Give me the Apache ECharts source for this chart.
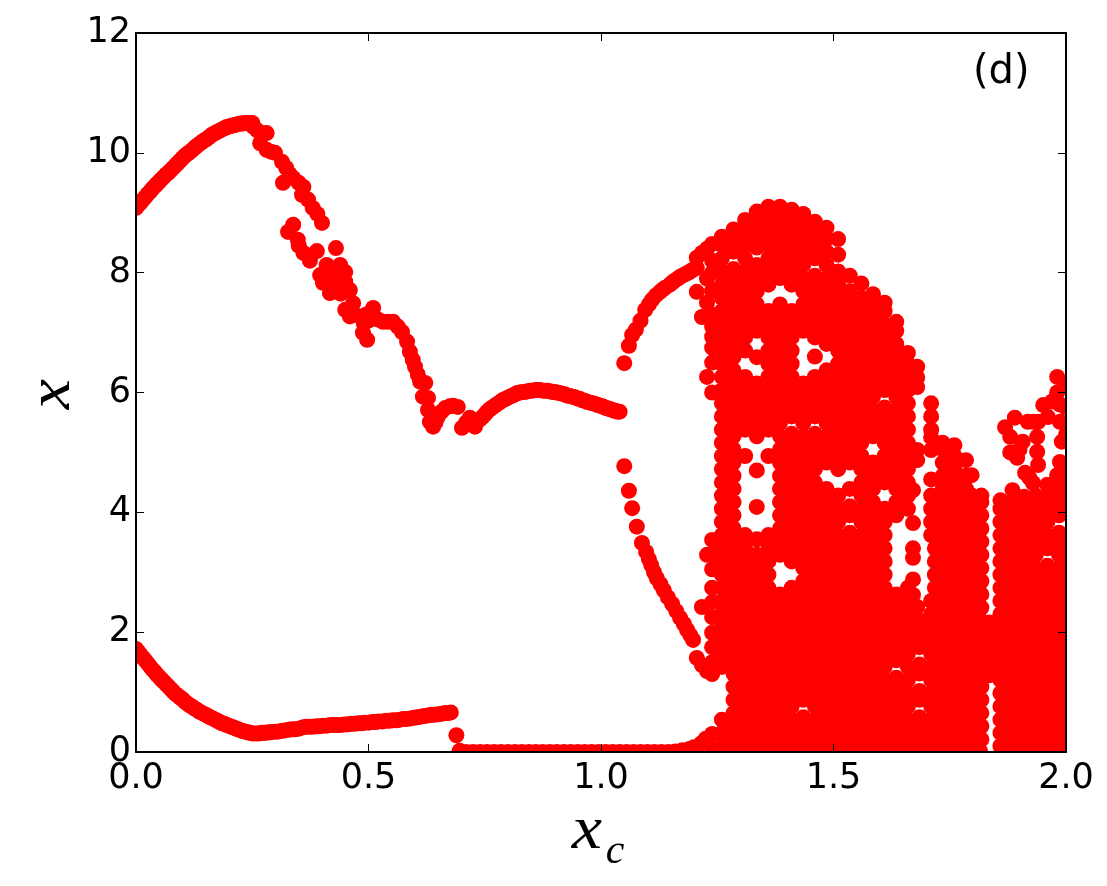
<!DOCTYPE html>
<html>
<head>
<meta charset="utf-8">
<style>html,body{margin:0;padding:0;background:#fff}#chart{width:1107px;height:886px}</style>
<script src="https://cdn.jsdelivr.net/npm/echarts@6/dist/echarts.min.js"></script>
</head>
<body>
<div id="chart"></div>
<script>
// Tick labels
const xTicks = [0, 0.5, 1, 1.5, 2];
const yTicks = [0, 2, 4, 6, 8, 10, 12];

// Ordered branches, as [xc, x]
const upperRise = [[0,9.08],[0.005,9.13],[0.01,9.17],[0.015,9.22],[0.02,9.26],[0.025,9.31],[0.03,9.35],[0.035,9.4],[0.04,9.44],[0.045,9.48],[0.05,9.52],[0.055,9.56],[0.06,9.6],[0.065,9.64],[0.07,9.67],[0.075,9.71],[0.08,9.75],[0.085,9.79],[0.09,9.83],[0.095,9.87],[0.1,9.91],[0.105,9.95],[0.11,9.98],[0.115,10.01],[0.12,10.04],[0.125,10.08],[0.13,10.11],[0.135,10.14],[0.14,10.17],[0.145,10.2],[0.15,10.22],[0.155,10.25],[0.16,10.28],[0.165,10.31],[0.17,10.33],[0.175,10.35],[0.18,10.37],[0.185,10.39],[0.19,10.41],[0.195,10.43],[0.2,10.44],[0.205,10.45],[0.21,10.46],[0.215,10.47],[0.22,10.48],[0.225,10.49],[0.23,10.49],[0.235,10.5],[0.24,10.5],[0.245,10.5],[0.25,10.5]];
const upperScatter = [[0.252,10.44],[0.26,10.38],[0.27,10.33],[0.281,10.33],[0.267,10.16],[0.281,10.05],[0.29,10.02],[0.299,10],[0.314,9.85],[0.323,9.75],[0.316,9.5],[0.33,9.65],[0.338,9.58],[0.35,9.5],[0.36,9.43],[0.357,9.3],[0.37,9.22],[0.38,9.08],[0.39,8.98],[0.4,8.83],[0.338,8.8],[0.327,8.68],[0.348,8.55],[0.36,8.33],[0.35,8.45],[0.389,8.36],[0.43,8.41],[0.374,8.2],[0.41,8.13],[0.439,8.13],[0.45,8.01],[0.396,7.96],[0.402,7.83],[0.417,7.66],[0.432,7.83],[0.42,8],[0.41,7.9],[0.425,7.75],[0.44,7.65],[0.46,7.71],[0.45,7.85],[0.467,7.49],[0.45,7.38],[0.46,7.27],[0.47,7.3],[0.482,7.27],[0.495,7.3],[0.51,7.41],[0.5,7.2],[0.497,6.88],[0.488,7],[0.49,7.15],[0.52,7.22],[0.531,7.18],[0.542,7.18],[0.553,7.18],[0.563,7.1],[0.572,7.01],[0.583,6.85],[0.589,6.68],[0.595,6.55],[0.6,6.43],[0.606,6.3],[0.611,6.18],[0.622,6.16],[0.617,5.93],[0.628,5.91],[0.628,5.71],[0.632,5.51],[0.639,5.43],[0.644,5.5],[0.649,5.59],[0.657,5.68],[0.665,5.74],[0.675,5.77],[0.682,5.78],[0.692,5.76]];
const humpBranch = [[0.701,5.41],[0.71,5.5],[0.718,5.58],[0.729,5.43],[0.74,5.55],[0.745,5.59],[0.75,5.63],[0.755,5.68],[0.761,5.72],[0.766,5.75],[0.772,5.78],[0.777,5.81],[0.783,5.84],[0.788,5.87],[0.794,5.89],[0.799,5.91],[0.804,5.93],[0.81,5.95],[0.815,5.97],[0.82,5.99],[0.826,6],[0.831,6.01],[0.837,6.01],[0.842,6.02],[0.848,6.03],[0.853,6.03],[0.859,6.04],[0.864,6.04],[0.869,6.04],[0.875,6.03],[0.88,6.03],[0.885,6.03],[0.89,6.02],[0.895,6.01],[0.9,6.01],[0.905,6],[0.911,5.99],[0.916,5.98],[0.922,5.97],[0.927,5.95],[0.933,5.94],[0.938,5.93],[0.944,5.92],[0.95,5.9],[0.955,5.89],[0.96,5.87],[0.966,5.86],[0.971,5.84],[0.977,5.83],[0.982,5.82],[0.988,5.81],[0.993,5.79],[0.998,5.78],[1.003,5.77],[1.008,5.75],[1.012,5.74],[1.016,5.73],[1.02,5.72],[1.024,5.71],[1.028,5.7],[1.032,5.69],[1.036,5.68],[1.04,5.68]];
const forkUpper = [[1.05,6.49],[1.06,6.78],[1.067,6.96],[1.075,7.05],[1.085,7.2],[1.095,7.38],[1.103,7.47],[1.11,7.55],[1.118,7.62],[1.127,7.68],[1.133,7.72],[1.138,7.75],[1.148,7.8],[1.154,7.84],[1.159,7.87],[1.165,7.9],[1.17,7.93],[1.175,7.95],[1.18,7.97],[1.185,7.99],[1.19,8.01],[1.194,8.03],[1.198,8.05],[1.206,8.08]];
const forkLower = [[1.05,4.77],[1.06,4.36],[1.067,4.07],[1.077,3.76],[1.088,3.49],[1.097,3.34],[1.103,3.22],[1.108,3.12],[1.114,3],[1.12,2.9],[1.128,2.8],[1.135,2.7],[1.144,2.58],[1.153,2.47],[1.162,2.35],[1.17,2.24],[1.178,2.14],[1.185,2.04],[1.192,1.95],[1.198,1.87]];
const lowerFall = [[0,1.72],[0.005,1.67],[0.01,1.62],[0.015,1.57],[0.02,1.53],[0.025,1.48],[0.03,1.43],[0.035,1.38],[0.04,1.34],[0.045,1.29],[0.05,1.25],[0.055,1.21],[0.06,1.17],[0.065,1.13],[0.07,1.09],[0.075,1.05],[0.08,1.01],[0.085,0.97],[0.09,0.94],[0.095,0.91],[0.1,0.88],[0.105,0.84],[0.11,0.81],[0.115,0.78],[0.12,0.76],[0.125,0.73],[0.13,0.71],[0.135,0.68],[0.14,0.66],[0.145,0.64],[0.15,0.62],[0.155,0.6],[0.16,0.58],[0.165,0.56],[0.17,0.54],[0.175,0.52],[0.18,0.5],[0.185,0.48],[0.19,0.47],[0.195,0.45],[0.2,0.44],[0.205,0.42],[0.21,0.41],[0.215,0.39],[0.22,0.38],[0.225,0.36],[0.23,0.35],[0.235,0.34],[0.24,0.33],[0.245,0.32],[0.25,0.31]];
const lowerRise = [[0.255,0.31],[0.26,0.31],[0.265,0.31],[0.27,0.32],[0.275,0.32],[0.28,0.32],[0.285,0.33],[0.29,0.33],[0.298,0.34],[0.305,0.34],[0.312,0.35],[0.32,0.36],[0.328,0.37],[0.335,0.38],[0.342,0.38],[0.35,0.39],[0.358,0.41],[0.365,0.42],[0.372,0.42],[0.38,0.42],[0.388,0.43],[0.395,0.43],[0.402,0.44],[0.41,0.44],[0.418,0.45],[0.425,0.45],[0.432,0.45],[0.44,0.45],[0.448,0.46],[0.455,0.46],[0.462,0.47],[0.47,0.47],[0.478,0.48],[0.485,0.48],[0.492,0.49],[0.5,0.49],[0.508,0.5],[0.515,0.5],[0.522,0.51],[0.53,0.51],[0.538,0.52],[0.545,0.52],[0.552,0.53],[0.56,0.53],[0.568,0.54],[0.575,0.55],[0.582,0.55],[0.59,0.56],[0.598,0.57],[0.605,0.58],[0.612,0.59],[0.62,0.6],[0.628,0.61],[0.635,0.62],[0.642,0.62],[0.65,0.63],[0.658,0.64],[0.665,0.65],[0.671,0.65],[0.677,0.66],[0.689,0.28]];
const floorBranch = [[0.696,0.02],[0.71,0],[0.725,0],[0.74,0],[0.755,0],[0.77,0],[0.785,0],[0.8,0],[0.815,0],[0.83,0],[0.845,0],[0.86,0],[0.875,0],[0.89,0],[0.905,0],[0.92,0],[0.935,0],[0.95,0],[0.965,0],[0.98,0],[0.995,0],[1.01,0],[1.025,0],[1.04,0],[1.055,0],[1.07,0],[1.085,0],[1.1,0],[1.115,0],[1.13,0],[1.145,0],[1.16,0.01],[1.175,0.03],[1.19,0.05],[1.2,0.08],[1.215,0.14],[1.225,0.22]];
const bandFloor = [[1.24,0.05],[1.25,0.03],[1.272,0.02],[1.297,0.02],[1.322,0.02],[1.347,0.02],[1.372,0.02],[1.397,0.02],[1.422,0.02],[1.447,0.02],[1.472,0.02],[1.497,0.02],[1.522,0.02],[1.547,0.02],[1.572,0.02],[1.597,0.02],[1.622,0.02],[1.647,0.02],[1.672,0.02],[1.697,0.02],[1.722,0.02],[1.747,0.02],[1.772,0.02],[1.797,0.02],[1.815,0.02],[1.862,0.02],[1.872,0.02],[1.897,0.02],[1.922,0.02],[1.947,0.02],[1.972,0.02],[1.997,0.02]];
const rightCurls = [[1.869,5.42],[1.89,5.58],[1.88,5.26],[1.88,5],[1.895,4.91],[1.912,4.66],[1.921,4.58],[1.929,4.49],[1.918,5.51],[1.907,5.18],[1.9,5.05],[1.94,5.51],[1.938,5.26],[1.938,5.01],[1.94,4.79],[1.951,5.79],[1.961,5.59],[1.981,6.26],[1.981,6],[1.987,5.51],[1.991,5.18],[1.987,4.84],[1.981,4.62],[1.97,4.46],[1.987,5.8],[1.97,5.85],[2,5.75],[2,5.3],[2,6.1],[1.93,5.51]];
// Readings that leave only slivers of white inside the band
const bandSlivers = [[1.285,8.06],[1.335,8.42],[1.46,7.95],[1.61,5.75],[1.41,5.31],[1.46,5.31],[1.435,0.58],[1.635,1.24],[1.685,1.46],[1.685,1.02],[1.685,0.58],[1.96,3.11],[1.985,3.66],[1.535,4.1],[1.535,3.66]];

// Chaotic band, one array of x readings for each xc position
const band1206 = [1.57,7.68,8.25];
const band1217 = [1.45,2.42,7.26,8.33];
const band1228 = [1.35,3.29,6.26,7.5,7.9,8.4];
const band1239 = [0.3,1.3,1.5,1.75,1.99,2.25,2.5,2.74,3.05,3.3,3.54,6,6.5,6.75,6.93,7.1,7.3,7.7,8,8.2,8.48];
const band1260 = [0.1,0.32,0.54,1.42,1.64,1.86,2.08,2.3,2.52,2.74,2.96,3.18,3.4,3.62,3.84,4.06,4.28,4.5,4.72,4.94,5.16,5.38,5.6,5.82,6.04,6.26,6.48,6.7,6.92,7.14,7.36,7.58,7.8,8.02,8.24,8.46,8.6];
const band1285 = [0.21,0.43,0.65,0.87,1.09,1.31,1.53,1.75,1.97,2.19,2.41,2.63,2.85,3.07,3.29,3.51,3.73,3.95,4.17,4.39,4.61,4.83,5.05,5.27,5.49,5.71,5.93,6.15,6.37,6.59,6.81,7.03,7.25,7.47,7.69,7.91,8.35,8.57,8.72];
const band1310 = [0.1,0.32,0.54,0.76,0.98,1.2,1.42,1.64,1.86,2.08,2.3,2.52,2.74,2.96,3.18,3.4,3.62,4.94,5.38,5.6,5.82,6.04,6.26,6.7,6.92,7.14,7.36,7.58,7.8,8.02,8.24,8.46,8.68,8.88];
const band1335 = [0.21,0.43,0.65,0.87,1.09,1.31,1.53,1.75,1.97,2.19,2.41,2.63,2.85,3.07,3.29,3.55,4.09,4.7,5.27,5.49,5.71,5.93,6.15,6.59,7.03,7.25,7.47,7.69,7.91,8.13,8.57,8.79,9.02];
const band1360 = [0.1,0.32,0.54,0.76,0.98,1.2,1.42,1.64,1.86,2.08,2.3,2.52,2.74,2.96,3.18,3.4,3.62,4.94,5.38,5.6,5.82,6.04,6.26,6.48,6.7,6.92,7.14,7.36,7.8,8.02,8.24,8.46,8.68,8.9,9.1];
const band1385 = [0.21,0.43,0.65,0.87,1.09,1.31,1.53,1.75,1.97,2.19,2.41,2.63,3.29,3.51,3.73,3.95,4.17,4.39,4.61,4.83,5.05,5.27,5.49,5.71,5.93,6.15,6.37,6.59,6.81,7.03,7.25,7.47,7.91,8.13,8.35,8.57,8.79,9.01,9.1];
const band1410 = [0.1,0.32,0.54,0.76,0.98,1.2,1.42,1.64,1.86,2.08,2.3,2.52,2.74,3.18,3.4,3.62,3.84,4.06,4.28,4.5,4.72,4.94,5.16,5.6,5.82,6.04,6.26,6.48,6.7,6.92,7.14,7.36,7.8,8.02,8.24,8.46,8.68,8.9,9.05];
const band1435 = [0.21,0.43,0.87,1.09,1.31,1.53,1.75,1.97,2.19,2.41,2.63,2.85,3.07,3.29,3.51,3.73,3.95,4.17,4.39,4.61,4.83,5.05,5.27,5.49,5.71,5.93,6.15,7.03,7.25,7.47,7.69,7.91,8.13,8.35,8.57,8.79,8.98];
const band1460 = [0.1,0.32,0.54,0.76,0.98,1.2,1.42,1.64,1.86,2.08,2.3,2.52,2.74,2.96,3.18,3.4,3.62,3.84,4.06,4.28,4.5,4.72,4.94,5.16,5.6,5.82,6.04,6.26,6.6,6.92,7.14,7.36,7.58,7.8,8.24,8.46,8.68,8.85];
const band1485 = [0.21,0.43,0.65,0.87,1.09,1.31,1.53,1.75,1.97,2.19,2.41,2.63,2.85,3.07,3.29,3.51,3.73,3.95,4.17,4.39,4.83,5.05,5.27,5.49,5.71,5.93,6.15,6.37,6.81,7.03,7.25,7.47,7.69,7.91,8.13,8.35,8.57,8.75];
const band1510 = [0.1,0.32,0.54,0.76,0.98,1.2,1.42,1.64,1.86,2.08,2.3,2.52,2.74,2.96,3.18,3.4,3.62,3.84,4.06,4.28,4.72,4.94,5.16,5.38,5.6,5.82,6.04,6.26,6.48,6.7,6.92,7.14,7.36,7.58,7.8,8.02,8.3,8.56];
const band1535 = [0.21,0.43,0.65,0.87,1.09,1.31,1.53,1.75,1.97,2.19,2.41,2.63,2.85,3.07,3.29,3.51,3.95,4.39,4.83,5.05,5.27,5.49,5.71,5.93,6.15,6.37,6.59,6.81,7.03,7.25,7.47,7.69,7.95];
const band1560 = [0.1,0.32,0.54,0.76,0.98,1.2,1.42,1.64,1.86,2.08,2.3,2.52,2.74,2.96,3.18,3.4,3.62,3.84,4.06,4.28,4.5,4.72,4.94,5.16,5.38,5.6,5.82,6.04,6.26,6.48,6.7,6.92,7.14,7.36,7.58,7.82];
const band1585 = [0.21,0.43,0.65,0.87,1.09,1.31,1.53,1.75,1.97,2.19,2.41,2.63,2.85,3.07,3.29,3.51,3.73,3.95,4.17,4.39,4.61,4.83,5.27,5.49,5.71,5.93,6.15,6.37,6.59,6.81,7.03,7.25,7.47,7.64];
const band1610 = [0.1,0.32,0.54,0.76,0.98,1.2,1.42,1.64,1.86,2.08,2.3,2.52,2.74,2.96,3.18,3.4,3.62,3.84,4.06,4.5,4.72,4.94,5.16,5.38,5.6,6.04,6.26,6.48,6.7,6.92,7.14,7.36,7.5];
const band1635 = [0.21,0.43,0.65,0.87,1.09,1.53,1.75,1.97,2.19,2.41,2.63,3.95,4.17,4.39,4.61,4.83,5.05,5.27,5.49,5.71,5.93,6.15,6.37,6.59,6.81,7.03,7.18];
const band1660 = [0.1,0.32,0.54,0.76,0.98,1.2,1.42,1.64,1.86,2.08,2.3,2.52,2.74,4.06,4.28,4.5,4.72,4.94,5.16,5.38,5.6,5.82,6.04,6.26,6.48,6.66];
const band1671 = [2.62,2.88,3.24,3.4,3.82,4.37];
const band1680 = [2.42,4.87,5.04,6.09,6.25,6.43];
const band1685 = [0.21,0.43,0.87,1.31,1.75,1.97,2.19];
const band1710 = [0.1,0.32,0.54,0.76,0.98,1.2,1.42,1.64,1.86,2.08,2.3,2.52,3.62,3.84,4.06,4.28,4.55,5.04,5.25,5.38,5.6,5.82];
const band1718 = [2.74,2.96,3.18,3.4];
const band1735 = [0.21,0.43,0.65,0.87,1.09,1.31,1.53,1.75,1.97,2.19,2.41,2.63,2.85,3.07,3.29,3.51,3.73,3.95,4.17,4.39,4.61,4.83,5.05,5.16];
const band1760 = [0.1,0.32,0.54,0.76,0.98,1.2,1.42,1.64,1.86,2.08,2.3,2.52,2.74,2.96,3.18,3.4,3.62,3.84,4.06,4.28,4.5,4.72,4.94,5.12];
const band1785 = [0.21,0.43,0.65,0.87,1.09,1.31,1.53,1.75,1.97,2.19,2.41,2.63,2.85,3.07,3.29,3.51,3.73,3.95,4.17,4.39,4.61,4.87];
const band1797 = [0.1,0.32,0.54,0.76,0.98,1.2,1.42,1.64,1.86,2.08,2.3,2.52,2.74,2.96,3.18,3.4,3.62,3.84,4.06,4.28,4.62];
const band1818 = [0.21,0.43,0.65,0.87,1.09,1.31,1.53,1.75,1.97,2.19,2.41,2.63,2.85,3.07,3.29,3.51,3.73,3.95,4.17,4.28];
const band1835 = [1.28,1.5,1.72,1.94,2.16];
const band1859 = [0.1,0.32,0.54,0.76,0.98,1.2,1.42,1.64,1.86,2.08,2.3,2.52,2.74,2.96,3.18,3.4,3.62,3.84,4.06,4.2];
const band1885 = [0.21,0.43,0.65,0.87,1.09,1.31,1.53,1.75,1.97,2.19,2.41,2.63,2.85,3.07,3.29,3.51,3.73,3.95,4.17,4.37];
const band1910 = [0.1,0.32,0.54,0.76,0.98,1.2,1.42,1.64,1.86,2.08,2.3,2.52,2.74,2.96,3.18,3.4,3.62,3.84,4.06,4.26];
const band1935 = [0.21,0.43,0.65,0.87,1.09,1.31,1.53,1.75,1.97,2.19,2.41,2.63,2.85,3.07,3.29,3.51,3.73,3.95,4.17,4.28];
const band1960 = [0.1,0.32,0.54,0.76,0.98,1.2,1.42,1.64,1.86,2.08,2.3,2.52,2.74,2.96,3.4,3.62,3.84,4.06,4.28,4.46];
const band1985 = [0.21,0.43,0.65,0.87,1.09,1.31,1.53,1.75,1.97,2.19,2.41,2.63,2.85,3.07,3.29,3.51,3.95,4.17,4.39,4.62];
const band2000 = [0.1,0.32,0.54,0.76,0.98,1.2,1.42,1.64,1.86,2.08,2.3,2.52,2.74,2.96,3.18,3.4,4.06,4.28,4.5,4.7];

const bandColumns = [
  [1.206,band1206],[1.217,band1217],[1.228,band1228],[1.239,band1239],[1.26,band1260],[1.285,band1285],
  [1.31,band1310],[1.335,band1335],[1.36,band1360],[1.385,band1385],[1.41,band1410],[1.435,band1435],
  [1.46,band1460],[1.485,band1485],[1.51,band1510],[1.535,band1535],[1.56,band1560],[1.585,band1585],
  [1.61,band1610],[1.635,band1635],[1.66,band1660],[1.671,band1671],[1.68,band1680],[1.685,band1685],
  [1.71,band1710],[1.718,band1718],[1.735,band1735],[1.76,band1760],[1.785,band1785],[1.797,band1797],
  [1.818,band1818],[1.835,band1835],[1.859,band1859],[1.885,band1885],[1.91,band1910],[1.935,band1935],
  [1.96,band1960],[1.985,band1985],[2,band2000]
];

const points = [].concat(upperRise, upperScatter, humpBranch, forkUpper, forkLower, lowerFall, lowerRise, floorBranch, bandFloor, bandSlivers, rightCurls);
bandColumns.forEach(([xc, values]) => values.forEach(v => points.push([xc, v])));

const tickFont = 'DejaVu Sans';
const mathFont = '"Liberation Serif"';
const black = '#000';

function baseAxis(extra) {
  return Object.assign({
    type: 'value',
    axisLine: { show: true, onZero: false, lineStyle: { color: black, width: 2 } },
    axisTick: { show: true, inside: true, length: 8, lineStyle: { color: black, width: 1 } },
    splitLine: { show: false },
    z: 5
  }, extra);
}

// Scatter clipping only drops whole points, so the frame's outside is painted over
// to cut the discs off at the spines; the axes sit above these panels.
function marginPanel(x, y, width, height) {
  return { type: 'rect', z: 3, silent: true, shape: { x, y, width, height }, style: { fill: '#fff' } };
}

const chart = echarts.init(document.getElementById('chart'), null, { renderer: 'canvas' });
chart.setOption({
  animation: false,
  backgroundColor: '#fff',
  grid: { left: 136, right: 41, top: 33, bottom: 134, outerBoundsMode: 'none' },
  xAxis: [
    baseAxis({
      position: 'bottom', min: xTicks[0], max: xTicks[xTicks.length - 1], interval: 0.5,
      axisLabel: { color: black, fontFamily: tickFont, fontSize: 35, margin: 9, formatter: v => v.toFixed(1) }
    }),
    baseAxis({ position: 'top', min: xTicks[0], max: xTicks[xTicks.length - 1], interval: 0.5, axisLabel: { show: false } })
  ],
  yAxis: [
    baseAxis({
      position: 'left', min: yTicks[0], max: yTicks[yTicks.length - 1], interval: 2,
      axisLabel: { color: black, fontFamily: tickFont, fontSize: 35, margin: 5 }
    }),
    baseAxis({ position: 'right', min: yTicks[0], max: yTicks[yTicks.length - 1], interval: 2, axisLabel: { show: false } })
  ],
  graphic: [
    marginPanel(0, 0, 136, 886),
    marginPanel(1066, 0, 41, 886),
    marginPanel(0, 752, 1107, 134),
    { type: 'text', left: 973, top: 53, z: 10, style: { text: '(d)', fontFamily: tickFont, fontSize: 40, fill: black } },
    { type: 'text', x: 587, y: 832, scaleX: 1.1, z: 10, style: { text: 'x', font: 'italic 62px ' + mathFont, fill: black, align: 'center', verticalAlign: 'middle' } },
    { type: 'text', x: 615, y: 852, z: 10, style: { text: 'c', font: 'italic 42px ' + mathFont, fill: black, align: 'center', verticalAlign: 'middle' } },
    { type: 'text', x: 53, y: 394, rotation: Math.PI / 2, scaleX: 1.1, z: 10, style: { text: 'x', font: 'italic 62px ' + mathFont, fill: black, align: 'center', verticalAlign: 'middle' } }
  ],
  series: [{
    type: 'scatter',
    xAxisIndex: 0, yAxisIndex: 0,
    data: points,
    symbol: 'circle',
    symbolSize: 16,
    itemStyle: { color: '#ff0000', opacity: 1, borderWidth: 0 },
    clip: true,
    silent: true,
    progressive: 0
  }]
});
</script>
</body>
</html>
